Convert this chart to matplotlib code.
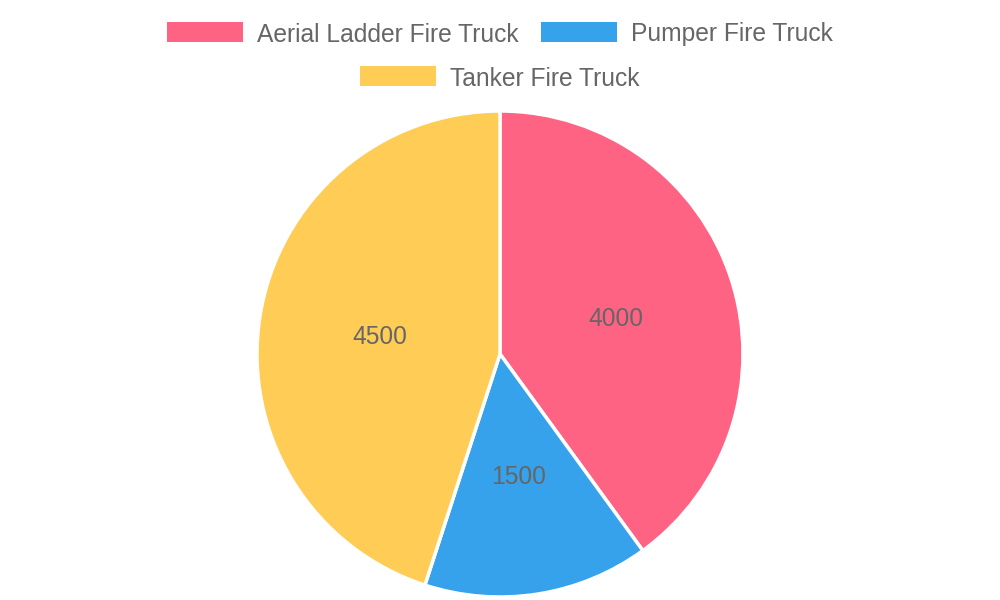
import matplotlib
matplotlib.use("Agg")
import matplotlib.pyplot as plt
from matplotlib.patches import Rectangle

categories = ["Aerial Ladder Fire Truck", "Pumper Fire Truck", "Tanker Fire Truck"]
values = [4000, 1500, 4500]
colors = ["#FF6384", "#36A2EB", "#FFCD56"]

W, H = 1000, 600
fig = plt.figure(figsize=(10, 6), dpi=100)
ax = fig.add_axes([0, 0, 1, 1])
ax.set_xlim(0, W)
ax.set_ylim(0, H)
ax.set_aspect("equal")
ax.axis("off")

fs = 17.7
cx, cy, r = 500, H - 354, 243
wedges, texts = ax.pie(values, colors=colors, startangle=90, counterclock=False,
                       center=(cx, cy), radius=r, labels=[str(v) for v in values],
                       labeldistance=0.5,
                       wedgeprops=dict(edgecolor="white", linewidth=2.5),
                       textprops=dict(fontsize=fs, color="#666666",
                                      family="Liberation Sans", ha="center",
                                      va="center_baseline"))
ax.set_xlim(0, W)
ax.set_ylim(0, H)

# legend (Chart.js style)
rows = [[0, 1], [2]]
row_y = [32, 76]
box_w, box_h, gap_t, gap_items = 76, 20, 14, 22
renderer = fig.canvas.get_renderer()
for ri, row in enumerate(rows):
    widths = []
    tobjs = []
    for i in row:
        t = ax.text(0, 0, categories[i], fontsize=fs, color="#666666",
                    family="Liberation Sans", va="center_baseline", ha="left")
        tw = t.get_window_extent(renderer).width
        widths.append(box_w + gap_t + tw)
        tobjs.append(t)
    total = sum(widths) + gap_items * (len(row) - 1)
    x = (W - total) / 2
    y = H - row_y[ri]
    for k, i in enumerate(row):
        ax.add_patch(Rectangle((x, y - box_h / 2), box_w, box_h, facecolor=colors[i],
                               edgecolor="none"))
        tobjs[k].set_position((x + box_w + gap_t, y))
        x += widths[k] + gap_items

fig.savefig("out.png", dpi=100)
